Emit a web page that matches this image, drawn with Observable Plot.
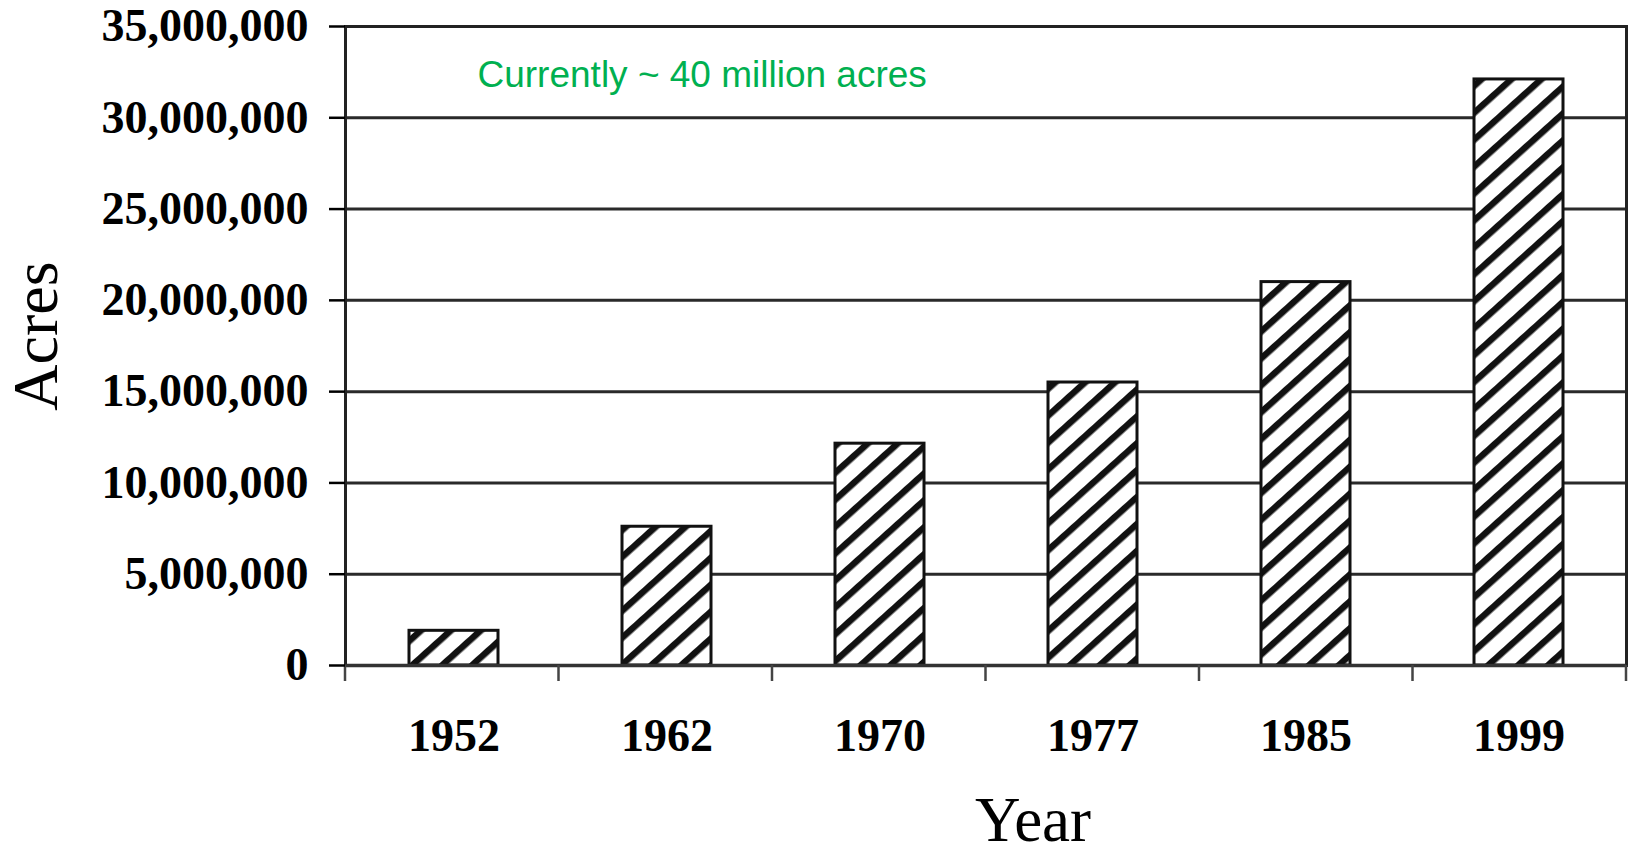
<!DOCTYPE html>
<html>
<head>
<meta charset="utf-8">
<script src="https://cdn.jsdelivr.net/npm/d3@7"></script>
<script src="https://cdn.jsdelivr.net/npm/@observablehq/plot@0.6"></script>
<style>
  html, body { margin: 0; padding: 0; background: #fff; }
  #chart svg { display: block; }
</style>
</head>
<body>
<div id="chart"></div>
<script>
// ---- data ----
const years = ["1952", "1962", "1970", "1977", "1985", "1999"];
const acres = [1900000, 7600000, 12150000, 15500000, 21000000, 32100000];
const yTicks = [0, 5000000, 10000000, 15000000, 20000000, 25000000, 30000000, 35000000];
const yTitle = "Acres";
const xTitle = "Year";
const note = "Currently ~ 40 million acres";

const data = years.map((y, i) => ({year: y, acres: acres[i]}));

const serif = "'Liberation Serif', 'Times New Roman', serif";
const sans = "'Liberation Sans', Arial, sans-serif";

// defs with the hatch pattern
function hatchDefs() {
  const ns = "http://www.w3.org/2000/svg";
  const defs = document.createElementNS(ns, "defs");
  const p = document.createElementNS(ns, "pattern");
  p.setAttribute("id", "hatch");
  p.setAttribute("patternUnits", "userSpaceOnUse");
  p.setAttribute("width", "20");
  p.setAttribute("height", "20");
  p.setAttribute("patternTransform", "rotate(-42)");
  const bg = document.createElementNS(ns, "rect");
  bg.setAttribute("width", "20"); bg.setAttribute("height", "20"); bg.setAttribute("fill", "#fff");
  const st = document.createElementNS(ns, "rect");
  st.setAttribute("y", "7"); st.setAttribute("width", "20"); st.setAttribute("height", "6.5"); st.setAttribute("fill", "#111");
  p.appendChild(bg); p.appendChild(st);
  defs.appendChild(p);
  return defs;
}

// category-boundary tick marks below the x axis
function boundaryTicks(index, scales, values, dim) {
  const g = d3.create("svg:g");
  const n = years.length;
  const left = dim.marginLeft, right = dim.width - dim.marginRight;
  const base = dim.height - dim.marginBottom;
  const step = (right - left) / n;
  for (let i = 0; i <= n; i++) {
    const xx = left + i * step;
    g.append("line").attr("x1", xx).attr("x2", xx).attr("y1", base).attr("y2", base + 16)
      .attr("stroke", "#444").attr("stroke-width", 2.5);
  }
  return g.node();
}

const chart = Plot.plot({
  width: 1630,
  height: 843,
  marginLeft: 345,
  marginRight: 4,
  marginTop: 26,
  marginBottom: 178,
  style: {background: "#fff", color: "#000", fontFamily: serif, overflow: "visible"},
  x: {domain: years, paddingInner: 0.583, paddingOuter: 0.2915, label: null},
  y: {domain: [0, 35000000], label: null},
  marks: [
    hatchDefs,
    Plot.gridY(yTicks, {stroke: "#2a2a2a", strokeOpacity: 1, strokeWidth: 3}),
    Plot.barY(data, {x: "year", y: "acres", fill: "url(#hatch)", stroke: "#111", strokeWidth: 3}),
    Plot.frame({stroke: "#222", strokeWidth: 3}),
    Plot.ruleY([0], {stroke: "#333", strokeWidth: 3.5}),
    boundaryTicks,
    Plot.axisY({ticks: yTicks, tickFormat: d3.format(","), tickSize: 16, tickPadding: 21,
      fontSize: 46, fontWeight: "bold", fontFamily: serif, strokeWidth: 2.5, label: null}),
    Plot.axisX({tickSize: 0, tickPadding: 53, fontSize: 46, fontWeight: "bold", fontFamily: serif, label: null}),
    Plot.text([yTitle], {frameAnchor: "left", dx: -309, dy: -10, rotate: -90, textAnchor: "middle",
      lineAnchor: "middle", fontSize: 64, fontFamily: serif, fill: "#000"}),
    Plot.text([xTitle], {frameAnchor: "bottom", dx: 47, dy: 155, textAnchor: "middle", lineAnchor: "middle",
      fontSize: 63, fontFamily: serif, fill: "#000"}),
    Plot.text([note], {frameAnchor: "top-left", dx: 132, dy: 34, textAnchor: "start", lineAnchor: "top",
      fontSize: 37, fontFamily: sans, fill: "#00B050"})
  ]
});

document.getElementById("chart").appendChild(chart);
</script>
</body>
</html>
